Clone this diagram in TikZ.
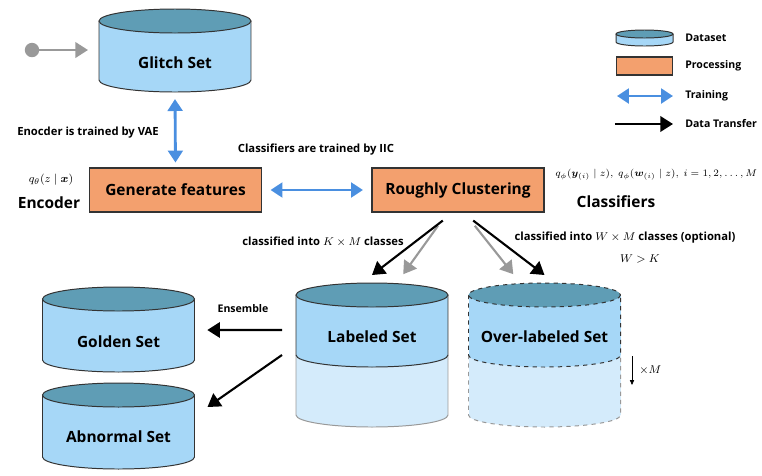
\documentclass[tikz,border=0pt]{standalone}
\usepackage{amsmath}
\usepackage{amssymb}
\usepackage{bm}
\usepackage{fontspec}
\setmainfont{Open Sans}
\usetikzlibrary{arrows.meta,positioning}

\definecolor{dbtop}{HTML}{5F9DB5}
\definecolor{dbbody}{HTML}{A6D7F7}
\definecolor{dblight}{HTML}{D4EBFB}
\definecolor{procfill}{HTML}{F3A06E}
\definecolor{trainblue}{HTML}{4A8FE0}

% data set drum: name, cx, top y, bottom y, x radius, y radius, line style
\newcommand{\dbcyl}[7]{%
  \fill[dbbody] (#2-#5,#3) rectangle (#2+#5,#4);
  \fill[dbbody] (#2,#4) ellipse [x radius=#5, y radius=#6];
  \draw[#7] (#2-#5,#3) -- (#2-#5,#4) arc [start angle=180, end angle=0, x radius=#5, y radius=#6] -- (#2+#5,#3);
  \filldraw[fill=dbtop,#7] (#2,#3) ellipse [x radius=#5, y radius=#6];
  \coordinate (#1-n) at (#2,#3-#6);
  \coordinate (#1-s) at (#2,#4+#6);
  \coordinate (#1-w) at (#2-#5,#3+35);
  \coordinate (#1-e) at (#2+#5,#3+35);
}
% drum with a lighter lower half: name, cx, top y, middle y, bottom y, line style
\newcommand{\dbsplit}[6]{%
  \fill[dblight] (#2-76,#4) rectangle (#2+76,#5);
  \fill[dblight] (#2,#5) ellipse [x radius=76, y radius=12];
  \fill[dbbody] (#2-76,#3) rectangle (#2+76,#4);
  \fill[dbbody] (#2,#4) ellipse [x radius=76, y radius=12];
  \draw[#6,draw=black!40] (#2-76,#4) -- (#2-76,#5) arc [start angle=180, end angle=0, x radius=76, y radius=12] -- (#2+76,#4);
  \draw[#6] (#2-76,#3) -- (#2-76,#4) arc [start angle=180, end angle=0, x radius=76, y radius=12] -- (#2+76,#3);
  \filldraw[fill=dbtop,#6] (#2,#3) ellipse [x radius=76, y radius=12];
  \coordinate (#1-n) at (#2,#3-12);
  \coordinate (#1-w) at (#2-76,#3+35);
  \coordinate (#1-e) at (#2+76,#3+35);
}

\begin{document}
\begin{tikzpicture}[x=0.025cm, y=-0.025cm,
    dbline/.style={draw=black!80, line width=0.7pt},
    procbox/.style={draw=black!80, fill=procfill, line width=0.8pt, minimum width=4.3cm, minimum height=1.1cm,
      font=\bfseries\fontsize{11}{13}\selectfont},
    bigtext/.style={inner sep=0pt, font=\bfseries\fontsize{11}{13}\selectfont},
    smalltext/.style={inner sep=0pt, font=\bfseries\fontsize{8}{10}\selectfont},
    legtext/.style={inner sep=0pt, anchor=west, font=\bfseries\fontsize{7.5}{9}\selectfont},
    train/.style={{Triangle[width=10.5pt,length=8.5pt]}-{Triangle[width=10.5pt,length=8.5pt]}, trainblue, line width=2pt},
    data/.style={-{Triangle[width=11pt,length=9pt]}, black, line width=1.5pt},
    grey/.style={-{Triangle[width=11pt,length=9pt]}, black!40, line width=1.5pt}]
  \useasboundingbox (0,0) rectangle (762,475);

  % glitch set and its input
  \dbcyl{glitch}{175}{21}{80}{76}{12}{dbline}
  \node[bigtext] (glitch) at (175,63) {Glitch Set};
  \node[circle, fill=black!40, inner sep=0pt, minimum size=0.36cm] (src) at (32,50) {};
  \coordinate (glitch-in) at (88,50);
  \draw[grey, line width=1.8pt] (src) -- (glitch-in);

  % processing
  \node[procbox] (genfeat) at (175.5,190) {Generate features};
  \node[procbox] (cluster) at (458,190) {Roughly Clustering};
  \draw[train] ([yshift=-5pt]glitch-s) -- ([yshift=3.5pt]genfeat.north);
  \draw[train, shorten <=6pt, shorten >=6pt] (genfeat) -- (cluster);

  \node[smalltext] (vae) at (88,133) {Enocder is trained by VAE};
  \node[smalltext] (iic) at (316,150) {Classifiers are trained by IIC};
  \node[inner sep=0pt, font=\fontsize{8}{10}\selectfont] (qenc) at (51,180) {$q_\theta(z \mid \bm{x})$};
  \node[bigtext] (enc) at (49,203) {Encoder};
  \node[inner sep=0pt, anchor=west, font=\fontsize{7.5}{9}\selectfont] (qcls) at (555,175)
    {$q_\phi(\bm{y}_{(i)} \mid z),\ q_\phi(\bm{w}_{(i)} \mid z),\ i=1,2,\ldots,M$};
  \node[bigtext] (cls) at (616,202) {Classifiers};

  % labeled sets
  \dbsplit{labeled}{372}{295}{355}{415}{dbline}
  \node[bigtext] (labeled) at (372,337) {Labeled Set};
  \dbsplit{overlab}{544.5}{295}{355}{415}{dbline, dashed}
  \node[bigtext] (overlab) at (544.5,337) {Over-labeled Set};

  \draw[grey] ([xshift=-0.5cm,yshift=-0.33cm]cluster.south) -- ([xshift=0.78cm,yshift=0.22cm]labeled-n);
  \draw[data] ([xshift=-0.38cm,yshift=-0.2cm]cluster.south) -- ([yshift=0.2cm]labeled-n);
  \draw[grey] ([xshift=0.42cm,yshift=-0.33cm]cluster.south) -- ([xshift=-0.78cm,yshift=0.22cm]overlab-n);
  \draw[data] ([xshift=0.38cm,yshift=-0.2cm]cluster.south) -- ([yshift=0.2cm]overlab-n);
  \node[smalltext] (kxm) at (323,242) {classified into $K\times M$ classes};
  \node[smalltext] (wxm) at (625,238) {classified into $W\times M$ classes (optional)};
  \node[inner sep=0pt, font=\fontsize{8}{10}\selectfont] (wgk) at (640,259) {$W>K$};

  \coordinate (times-a) at (632,356);
  \coordinate (times-b) at (632,385);
  \draw[-{Triangle[width=3pt,length=3.5pt]}, line width=0.5pt] (times-a) -- (times-b);
  \node[inner sep=0pt, anchor=west, font=\fontsize{8}{10}\selectfont] (timesm) at (639,370) {$\times M$};

  % final sets
  \dbcyl{golden}{118.5}{299}{360}{76}{12}{dbline}
  \node[bigtext] (golden) at (118.5,342) {Golden Set};
  \dbcyl{abnormal}{118.5}{395}{457}{76}{12}{dbline}
  \node[bigtext] (abnormal) at (118.5,437) {Abnormal Set};
  \draw[data] ([xshift=-0.35cm]labeled-w) -- ([xshift=0.32cm,yshift=0.1cm]golden-e);
  \node[smalltext, font=\bfseries\fontsize{7.5}{9}\selectfont] (ens) at (243,309) {Ensemble};
  \draw[data] ([shift={(-14,25)}]labeled-w) -- ([shift={(13,-23)}]abnormal-e);

  % legend
  \dbcyl{legdb}{644.5}{34}{42}{28.5}{4}{dbline}
  \node[legtext] (legset) at (685,38) {Dataset};
  \node[procbox, minimum width=1.42cm, minimum height=0.45cm] (legproc) at (644.5,66) {};
  \node[legtext] (legpr) at (685,66) {Processing};
  \node[legtext] (legtrain) at (685,96) {Training};
  \draw[train] ([xshift=-1.7cm]legtrain.west) -- ([xshift=-0.3cm]legtrain.west);
  \node[legtext] (legdata) at (685,124) {Data Transfer};
  \draw[data] ([xshift=-1.75cm]legdata.west) -- ([xshift=-0.3cm]legdata.west);
\end{tikzpicture}
\end{document}
